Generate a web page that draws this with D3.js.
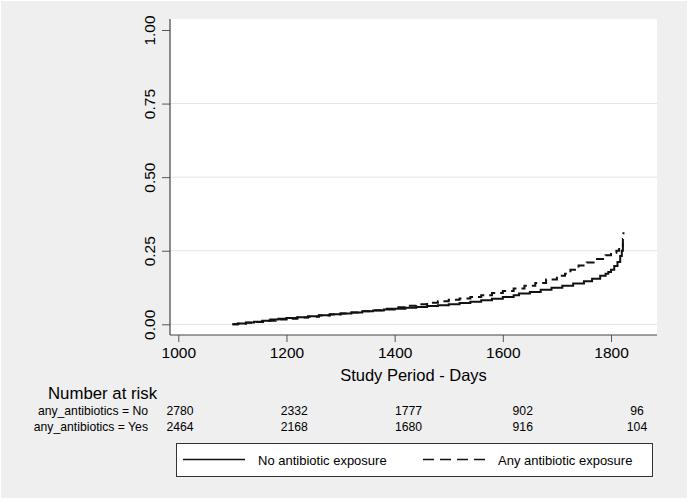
<!DOCTYPE html>
<html>
<head>
<meta charset="utf-8">
<script src="https://cdn.jsdelivr.net/npm/d3@7/dist/d3.min.js"></script>
<style>
  html, body { margin: 0; padding: 0; background: #ffffff; }
  svg { display: block; }
  text { font-family: "Liberation Sans", Arial, Helvetica, sans-serif; fill: #000; }
</style>
</head>
<body>
<svg id="chart" width="688" height="501"></svg>
<script>
// ---- Data ----
const xTicks = [1000, 1200, 1400, 1600, 1800];
const yTicks = [0, 0.25, 0.5, 0.75, 1.0];
const yGrid = [0, 0.25, 0.5, 0.75];

// Kaplan-Meier failure estimates: No antibiotic exposure (solid)
const noDays = [1100,1110,1125,1140,1155,1170,1185,1200,1220,1240,1260,1280,1300,1320,1340,1360,1380,1400,1420,1440,1460,1480,1500,1520,1540,1560,1580,1600,1620,1630,1650,1670,1690,1710,1730,1750,1765,1780,1790,1795,1800,1806,1812,1817,1820,1822];
const noVals = [0.000,0.003,0.006,0.009,0.012,0.016,0.019,0.021,0.024,0.027,0.031,0.034,0.037,0.040,0.044,0.047,0.050,0.053,0.056,0.059,0.062,0.065,0.068,0.072,0.077,0.082,0.087,0.093,0.099,0.105,0.110,0.117,0.124,0.131,0.139,0.146,0.155,0.165,0.172,0.178,0.185,0.198,0.212,0.232,0.250,0.275];

// Any antibiotic exposure (dashed)
const anyDays = [1100,1110,1125,1140,1160,1180,1200,1220,1240,1260,1280,1300,1320,1340,1360,1380,1400,1420,1440,1460,1480,1500,1520,1540,1560,1580,1600,1620,1640,1660,1680,1700,1715,1725,1740,1755,1770,1790,1800,1810,1815,1822,1823];
const anyVals = [0.000,0.002,0.005,0.008,0.012,0.016,0.019,0.023,0.026,0.030,0.033,0.037,0.040,0.044,0.048,0.053,0.058,0.063,0.068,0.073,0.078,0.083,0.088,0.093,0.099,0.106,0.113,0.122,0.131,0.140,0.152,0.165,0.172,0.185,0.200,0.210,0.222,0.235,0.243,0.250,0.262,0.290,0.313];

// Number at risk table
const riskTimes = [1000, 1200, 1400, 1600, 1800];
const riskNo = [2780, 2332, 1777, 902, 96];
const riskYes = [2464, 2168, 1680, 916, 104];
const riskLabels = ["any_antibiotics = No", "any_antibiotics = Yes"];
const legendLabels = ["No antibiotic exposure", "Any antibiotic exposure"];

// ---- Layout ----
const svg = d3.select("#chart");
const plot = { left: 170, right: 657, top: 19, bottom: 335 };

svg.append("rect").attr("x", 1).attr("y", 1).attr("width", 686).attr("height", 497).attr("fill", "#efefef");
svg.append("rect").attr("x", plot.left).attr("y", plot.top)
  .attr("width", plot.right - plot.left).attr("height", plot.bottom - plot.top).attr("fill", "#ffffff");

const x = d3.scaleLinear().domain([1000, 1800]).range([178.3, 611]);
const y = d3.scaleLinear().domain([0, 1]).range([324.3, 30]);
// the risk table is laid out on its own time scale
const xRisk = d3.scaleLinear().domain([1000, 1800]).range([180, 637]);

// gridlines
svg.append("g").selectAll("line").data(yGrid).join("line")
  .attr("x1", plot.left).attr("x2", plot.right)
  .attr("y1", d => y(d)).attr("y2", d => y(d))
  .attr("stroke", "#e4e4e4").attr("stroke-width", 1);

// curves
const line = d3.line().x(d => x(d[0])).y(d => y(d[1])).curve(d3.curveStepAfter);
const noData = noDays.map((d, i) => [d, noVals[i]]);
const anyData = anyDays.map((d, i) => [d, anyVals[i]]);
svg.append("path").datum(noData).attr("d", line)
  .attr("fill", "none").attr("stroke", "#111").attr("stroke-width", 2);
svg.append("path").datum(anyData).attr("d", line)
  .attr("fill", "none").attr("stroke", "#111").attr("stroke-width", 2)
  .attr("stroke-dasharray", "8,5");

// axes
const yAxis = d3.axisLeft(y).tickValues(yTicks).tickFormat(d3.format(".2f")).tickSize(8).tickPadding(7);
const gy = svg.append("g").attr("transform", `translate(${plot.left},0)`).call(yAxis);
gy.select(".domain").remove();
gy.selectAll(".tick line").attr("stroke", "#555");
gy.selectAll(".tick text")
  .attr("font-size", 15.5).attr("font-family", "Liberation Sans, Arial, sans-serif")
  .attr("transform", "rotate(-90)")
  .attr("x", 0).attr("y", -15.5).attr("dy", 0)
  .attr("text-anchor", "middle");

const xAxis = d3.axisBottom(x).tickValues(xTicks).tickFormat(d3.format("d")).tickSize(7).tickPadding(5);
const gx = svg.append("g").attr("transform", `translate(0,${plot.bottom})`).call(xAxis);
gx.select(".domain").remove();
gx.selectAll(".tick line").attr("stroke", "#555");
gx.selectAll(".tick text").attr("font-size", 15.5).attr("font-family", "Liberation Sans, Arial, sans-serif");

svg.append("line").attr("x1", plot.left).attr("x2", plot.left).attr("y1", plot.top).attr("y2", plot.bottom)
  .attr("stroke", "#444").attr("stroke-width", 1.2);
svg.append("line").attr("x1", plot.left).attr("x2", plot.right).attr("y1", plot.bottom).attr("y2", plot.bottom)
  .attr("stroke", "#444").attr("stroke-width", 1.2);

svg.append("text").attr("x", (plot.left + plot.right) / 2).attr("y", 381)
  .attr("text-anchor", "middle").attr("font-size", 16.5).text("Study Period - Days");

// Number at risk
svg.append("text").attr("x", 48).attr("y", 399).attr("font-size", 16.8).text("Number at risk");
const rows = [riskNo, riskYes];
const rowY = [415, 431];
rows.forEach((vals, r) => {
  svg.append("text").attr("x", 148).attr("y", rowY[r]).attr("text-anchor", "end")
    .attr("font-size", 12.2).text(riskLabels[r]);
  svg.append("g").selectAll("text").data(vals).join("text")
    .attr("x", (d, i) => xRisk(riskTimes[i])).attr("y", rowY[r])
    .attr("text-anchor", "middle").attr("font-size", 12.2).text(d => d);
});

// Legend
svg.append("rect").attr("x", 176.5).attr("y", 443.5).attr("width", 476).attr("height", 33)
  .attr("fill", "#ffffff").attr("stroke", "#333").attr("stroke-width", 1);
svg.append("line").attr("x1", 183).attr("x2", 245).attr("y1", 459.5).attr("y2", 459.5)
  .attr("stroke", "#111").attr("stroke-width", 1.5);
svg.append("text").attr("x", 258).attr("y", 464.5).attr("font-size", 13).text(legendLabels[0]);
svg.append("line").attr("x1", 423).attr("x2", 487).attr("y1", 459.5).attr("y2", 459.5)
  .attr("stroke", "#111").attr("stroke-width", 1.5).attr("stroke-dasharray", "11,6");
svg.append("text").attr("x", 498).attr("y", 464.5).attr("font-size", 13).text(legendLabels[1]);
</script>
</body>
</html>
